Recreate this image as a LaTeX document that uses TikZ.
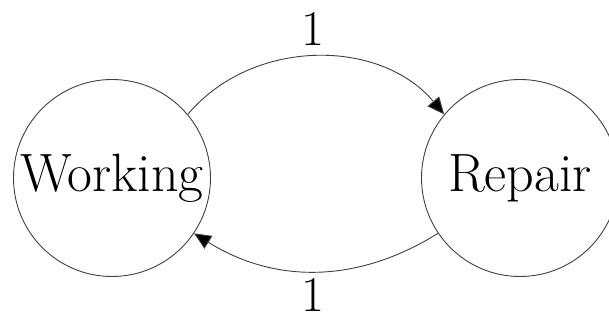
\documentclass[tikz,border=0pt]{standalone}
\usetikzlibrary{arrows.meta}
\begin{document}
\begin{tikzpicture}[x=1pt,y=1pt,
  state/.style={circle,draw=black!75,line width=0.9pt,minimum size=197pt,inner sep=0pt,font=\fontsize{54}{60}\selectfont},
  edge/.style={draw=black!75,line width=0.9pt,-{Triangle[length=17pt,width=15pt,fill=black]}},
  lbl/.style={font=\fontsize{50}{58}\selectfont,inner sep=0pt}]
\useasboundingbox (0,0) rectangle (609,321);
\node[state] (W) at (112,143) {Working};
\node[state] (R) at (520,143) {Repair};
\draw[edge] (W.40) to[out=50,in=130] (R.140);
\draw[edge] (R.214) to[out=-148,in=-32] (W.-34);
\node[lbl,anchor=north] (t1) at (313,309) {1};
\node[lbl,anchor=south] (t2) at (313,9) {1};
\end{tikzpicture}
\end{document}
